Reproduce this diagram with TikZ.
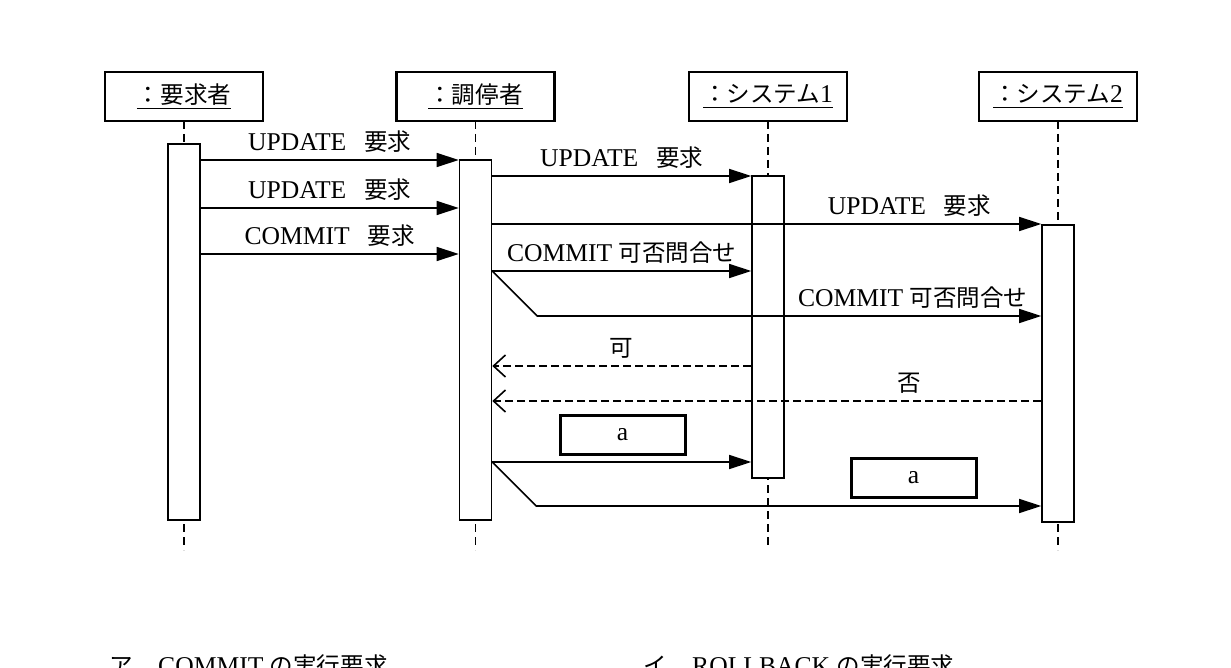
\documentclass[tikz,border=0pt]{standalone}
\usepackage{fontspec}
\setmainfont{Liberation Serif}
\newfontfamily\jafont{Noto Sans CJK JP}[Scale=0.92]
\newcommand\ja[1]{{\jafont #1}}
\usetikzlibrary{arrows.meta, positioning, calc}

\begin{document}
\begin{tikzpicture}[x=0.5pt, y=-0.5pt, font=\fontsize{12.8}{15}\selectfont,
    obj/.style={draw, line width=1.1pt, minimum width=79pt, minimum height=24.5pt, inner sep=0pt},
    act/.style={draw, line width=0.8pt, fill=white, minimum width=16pt, inner sep=0pt},
    life/.style={line width=0.9pt, dash pattern=on 4pt off 2.5pt},
    msg/.style={line width=0.8pt, -{Triangle[length=11pt, width=7pt]}},
    reply/.style={line width=0.8pt, dash pattern=on 4pt off 2pt, -{Straight Barb[length=6pt, width=11pt, line width=0.8pt]}},
    guard/.style={draw, line width=1.5pt, minimum width=62.5pt, minimum height=19.5pt, inner sep=0pt}]
            \useasboundingbox (0,0) rectangle (1231,668);
            % Objects
            \node[obj] (hReq) at (184,96.5) {\underline{\ja{：要求者}}};
            \node[obj] (hMed) at (475.5,96.5) {\underline{\ja{：調停者}}};
            \node[obj] (hSys1) at (768,96.5) {\underline{\ja{：システム}1}};
            \node[obj] (hSys2) at (1058,96.5) {\underline{\ja{：システム}2}};
            % Lifelines
            \draw[life] (184,121) -- (184,550);
            \draw[life] (475.5,121) -- (475.5,550);
            \draw[life] (768,121) -- (768,545);
            \draw[life] (1058,121) -- (1058,550);
            % Activations
            \node[act, minimum height=188pt] (bReq) at (184,332) {};
            \node[act, minimum height=180pt] (bMed) at (475.5,340) {};
            \node[act, minimum height=151pt] (bSys1) at (768,327) {};
            \node[act, minimum height=148.5pt] (bSys2) at (1058,373.5) {};
            % Requests
            \draw[msg] (bReq.east |- 0,160) -- node[above]{UPDATE\hspace{0.7em}\ja{要求}} (bMed.west |- 0,160);
            \draw[msg] (bReq.east |- 0,208) -- node[above]{UPDATE\hspace{0.7em}\ja{要求}} (bMed.west |- 0,208);
            \draw[msg] (bReq.east |- 0,254) -- node[above]{COMMIT\hspace{0.7em}\ja{要求}} (bMed.west |- 0,254);
            \draw[msg] (bMed.east |- 0,176) -- node[above]{UPDATE\hspace{0.7em}\ja{要求}} (bSys1.west |- 0,176);
            \draw[msg] (bMed.east |- 0,224) -- node[above, pos=0.76]{UPDATE\hspace{0.7em}\ja{要求}} (bSys2.west |- 0,224);
            % Vote
            \draw[msg] (bMed.east |- 0,271) -- node[above]{COMMIT \ja{可否問合せ}} (bSys1.west |- 0,271);
            \draw[msg] (bMed.east |- 0,271) -- ++(45,45) -- node[above, pos=0.745]{COMMIT \ja{可否問合せ}} (bSys2.west |- 0,316);
            \draw[reply] (bSys1.west |- 0,366) -- node[above]{\ja{可}} (bMed.east |- 0,366);
            \draw[reply] (bSys2.west |- 0,401) -- node[above, pos=0.24]{\ja{否}} (bMed.east |- 0,401);
            % Result
            \node[guard] (a1) at (622.5,434.5) {a};
            \node[guard] (a2) at (913.5,478) {a};
            \draw[msg] (bMed.east |- 0,462) -- (bSys1.west |- 0,462);
            \draw[msg] (bMed.east |- 0,462) -- ++(44,44) -- (bSys2.west |- 0,506);
            % Choices
            \node[anchor=base west] (optA) at (102,674) {\ja{ア}\hspace{1em}COMMIT \ja{の実行要求}};
            \node[anchor=base west] (optB) at (636,674) {\ja{イ}\hspace{1em}ROLLBACK \ja{の実行要求}};
        \end{tikzpicture}
\end{document}
